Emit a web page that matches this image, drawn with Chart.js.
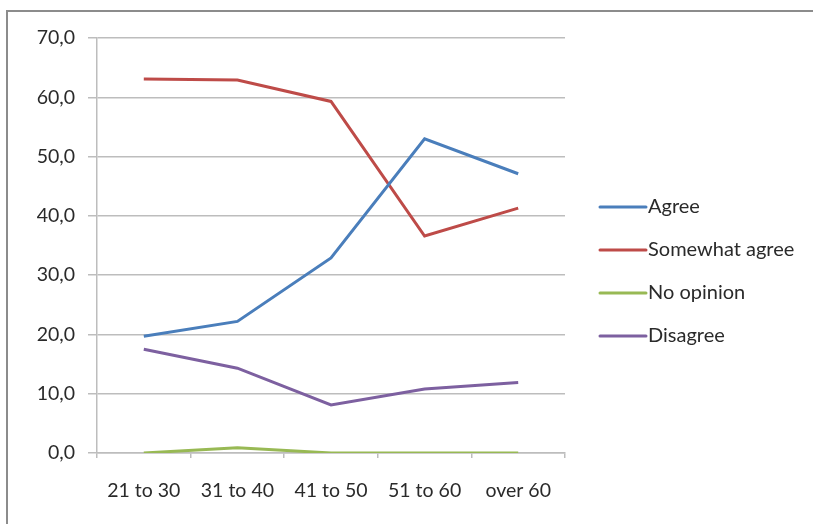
<!DOCTYPE html>
<html>
<head>
<meta charset="utf-8">
<script src="https://cdn.jsdelivr.net/npm/chart.js@4/dist/chart.umd.min.js"></script>
<style>
  html, body { margin: 0; padding: 0; background: #fff; overflow: hidden; }
  #frame { position: absolute; left: 6px; top: 10px; width: 900px; height: 700px;
           border: 2px solid #8c8c8c; box-sizing: border-box; }
  #wrap { position: absolute; left: 0; top: 0; width: 813px; height: 524px; }
</style>
</head>
<body>
<div id="frame"></div>
<div id="wrap"><canvas id="c" width="813" height="524"></canvas></div>
<script>
// Age groups on the x axis
const categories = ['21 to 30', '31 to 40', '41 to 50', '51 to 60', 'over 60'];

// Share of respondents (%) per answer
const agree          = [19.7, 22.2, 32.9, 53.0, 47.1];
const somewhatAgree  = [63.1, 62.9, 59.3, 36.6, 41.3];
const noOpinion      = [0.0, 0.9, 0.0, 0.0, 0.0];
const disagree       = [17.5, 14.3, 8.1, 10.8, 11.9];

const seriesNames  = ['Agree', 'Somewhat agree', 'No opinion', 'Disagree'];
const seriesColors = ['#4a7ebb', '#be4b48', '#98b954', '#7d60a0'];
const seriesValues = [agree, somewhatAgree, noOpinion, disagree];

const FONT = 'Lato, "Open Sans", sans-serif';
const TEXT = '#2a2a2a';
const GRID = '#bdbdbd';

// Legend drawn to the right of the plot: a short line followed by the label
const sideLegend = {
  id: 'sideLegend',
  afterDraw(chart) {
    const ctx = chart.ctx;
    ctx.save();
    ctx.font = '20px ' + FONT;
    ctx.textBaseline = 'middle';
    ctx.textAlign = 'left';
    chart.data.datasets.forEach((ds, i) => {
      const y = 207 + i * 43;
      ctx.strokeStyle = ds.borderColor;
      ctx.lineWidth = 3;
      ctx.lineCap = 'round';
      ctx.beginPath();
      ctx.moveTo(600, y);
      ctx.lineTo(646, y);
      ctx.stroke();
      ctx.fillStyle = TEXT;
      ctx.fillText(ds.label, 648, y);
    });
    ctx.restore();
  }
};

new Chart(document.getElementById('c'), {
  type: 'line',
  data: {
    labels: categories,
    datasets: seriesNames.map((name, i) => ({
      label: name,
      data: seriesValues[i],
      borderColor: seriesColors[i],
      backgroundColor: seriesColors[i],
      borderWidth: 3,
      pointRadius: 0,
      tension: 0,
      fill: false
    }))
  },
  options: {
    responsive: false,
    animation: false,
    layout: { padding: { left: 0, top: 38, right: 248, bottom: 0 } },
    plugins: { legend: { display: false }, tooltip: { enabled: false } },
    scales: {
      x: {
        offset: true,
        grid: { offset: true, drawOnChartArea: false, drawTicks: true, tickLength: 5, color: GRID, lineWidth: 1.5 },
        border: { display: true, color: GRID, width: 1.5 },
        ticks: { color: TEXT, font: { family: FONT, size: 19.5 }, padding: 21, maxRotation: 0 },
        afterFit(scale) { scale.height = 71; }
      },
      y: {
        min: 0, max: 70,
        grid: { color: GRID, lineWidth: 1.5, tickLength: 9 },
        border: { display: true, color: GRID, width: 1.5 },
        ticks: {
          stepSize: 10,
          color: TEXT,
          font: { family: FONT, size: 19.5 },
          padding: 13,
          callback: v => v.toFixed(1).replace('.', ',')
        },
        afterFit(scale) { scale.width = 97; }
      }
    }
  },
  plugins: [sideLegend]
});
</script>
</body>
</html>
